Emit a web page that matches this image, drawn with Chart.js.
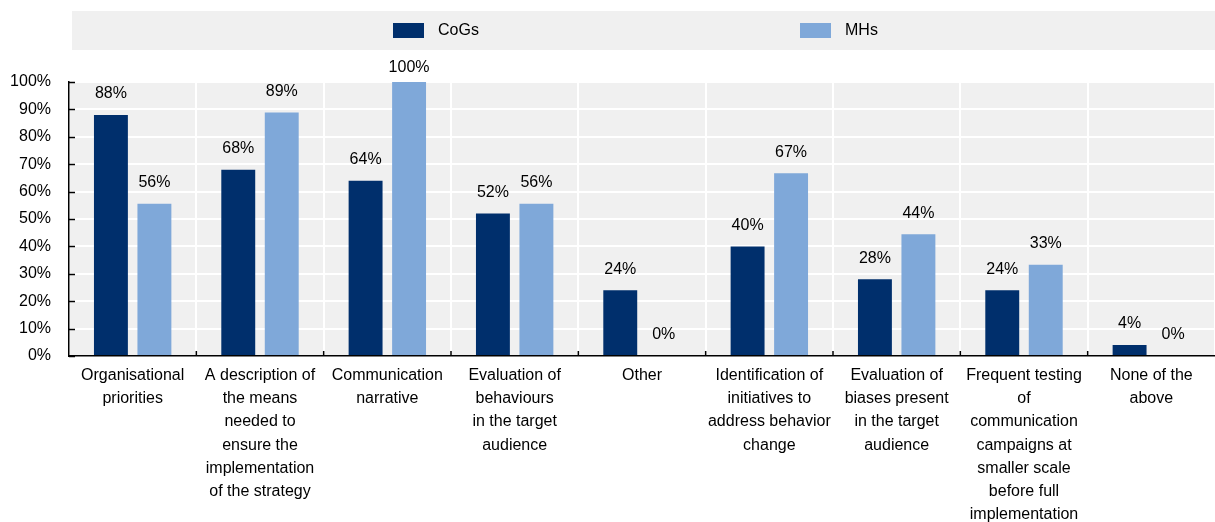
<!DOCTYPE html>
<html lang="en">
<head>
    <meta charset="UTF-8">
    <title>CoGs vs MHs</title>
    <script src="https://cdn.jsdelivr.net/npm/chart.js"></script>
    <style>
        body {
            margin: 0;
            background: #ffffff;
        }
        .chart-container {
            position: relative;
            width: 1215px;
            height: 522px;
        }
    </style>
</head>
<body>
    <div class="chart-container">
        <canvas id="mainChart"></canvas>
    </div>
    <script>
        const categories = [
            ['Organisational', 'priorities'],
            ['A description of', 'the means', 'needed to', 'ensure the', 'implementation', 'of the strategy'],
            ['Communication', 'narrative'],
            ['Evaluation of', 'behaviours', 'in the target', 'audience'],
            ['Other'],
            ['Identification of', 'initiatives to', 'address behavior', 'change'],
            ['Evaluation of', 'biases present', 'in the target', 'audience'],
            ['Frequent testing', 'of', 'communication', 'campaigns at', 'smaller scale', 'before full', 'implementation'],
            ['None of the', 'above']
        ];
        const cogsValues = [88, 68, 64, 52, 24, 40, 28, 24, 4];
        const mhsValues = [55.6, 88.9, 100, 55.6, 0, 66.7, 44.4, 33.3, 0];
        const seriesNames = ['CoGs', 'MHs'];
        const seriesColors = ['#002f6c', '#7fa8d9'];

        const FONT = "'Liberation Sans', Arial, sans-serif";

        // plot background + legend band
        const backgroundPlugin = {
            id: 'backgroundPlugin',
            beforeDraw(chart) {
                const { ctx, chartArea } = chart;
                ctx.save();
                ctx.fillStyle = '#f0f0f0';
                ctx.fillRect(chartArea.left, chartArea.top, chartArea.right - chartArea.left, chartArea.bottom - chartArea.top);
                // legend band
                ctx.fillRect(72, 11, chart.width - 72, 39);
                const legendX = [393, 800];
                ctx.font = '16px ' + FONT;
                ctx.textBaseline = 'middle';
                ctx.textAlign = 'left';
                chart.data.datasets.forEach((ds, i) => {
                    ctx.fillStyle = ds.backgroundColor;
                    ctx.fillRect(legendX[i], 23, 31, 15);
                    ctx.fillStyle = '#000';
                    ctx.fillText(ds.label, legendX[i] + 45, 30.5);
                });
                ctx.restore();
            }
        };

        // inward tick marks + value labels
        const overlayPlugin = {
            id: 'overlayPlugin',
            afterDatasetsDraw(chart) {
                const { ctx, chartArea, scales } = chart;
                ctx.save();
                ctx.strokeStyle = '#000';
                ctx.lineWidth = 1.5;
                scales.y.ticks.forEach(t => {
                    const y = Math.round(scales.y.getPixelForValue(t.value)) + 0.5;
                    ctx.beginPath();
                    ctx.moveTo(chartArea.left, y);
                    ctx.lineTo(chartArea.left + 6, y);
                    ctx.stroke();
                });
                for (let i = 0; i < categories.length - 1; i++) {
                    const x = (scales.x.getPixelForValue(i) + scales.x.getPixelForValue(i + 1)) / 2;
                    ctx.beginPath();
                    ctx.moveTo(x, chartArea.bottom);
                    ctx.lineTo(x, chartArea.bottom - 5);
                    ctx.stroke();
                }

                ctx.fillStyle = '#000';
                ctx.font = '16px ' + FONT;
                ctx.textAlign = 'center';
                ctx.textBaseline = 'middle';
                chart.data.datasets.forEach((ds, di) => {
                    chart.getDatasetMeta(di).data.forEach((bar, i) => {
                        const y = Math.max(bar.y - 21, chartArea.top - 14);
                        ctx.fillText(Math.round(ds.data[i]) + '%', bar.x, y);
                    });
                });
                ctx.restore();
            }
        };

        new Chart(document.getElementById('mainChart').getContext('2d'), {
            type: 'bar',
            data: {
                labels: categories,
                datasets: [
                    {
                        label: seriesNames[0],
                        data: cogsValues,
                        backgroundColor: seriesColors[0],
                        categoryPercentage: 0.683,
                        barPercentage: 0.78
                    },
                    {
                        label: seriesNames[1],
                        data: mhsValues,
                        backgroundColor: seriesColors[1],
                        categoryPercentage: 0.683,
                        barPercentage: 0.78
                    }
                ]
            },
            options: {
                responsive: true,
                maintainAspectRatio: false,
                animation: false,
                layout: {
                    padding: { top: 82, left: 0, right: 0, bottom: 0 }
                },
                plugins: {
                    legend: { display: false },
                    tooltip: { enabled: false }
                },
                scales: {
                    x: {
                        afterFit(scale) { scale.height = 166; },
                        grid: {
                            offset: true,
                            color: '#ffffff',
                            lineWidth: 2,
                            drawTicks: false
                        },
                        border: { color: '#000', width: 1.5 },
                        ticks: {
                            color: '#000',
                            padding: 8,
                            maxRotation: 0,
                            autoSkip: false,
                            font: { family: FONT, size: 16, lineHeight: 1.45 }
                        }
                    },
                    y: {
                        min: 0,
                        max: 100,
                        afterFit(scale) { scale.width = 69; },
                        grid: {
                            color: '#ffffff',
                            lineWidth: 2,
                            drawTicks: false
                        },
                        border: { color: '#000', width: 1.5 },
                        ticks: {
                            stepSize: 10,
                            color: '#000',
                            padding: 18,
                            font: { family: FONT, size: 16 },
                            callback: v => v + '%'
                        }
                    }
                }
            },
            plugins: [backgroundPlugin, overlayPlugin]
        });
    </script>
</body>
</html>
